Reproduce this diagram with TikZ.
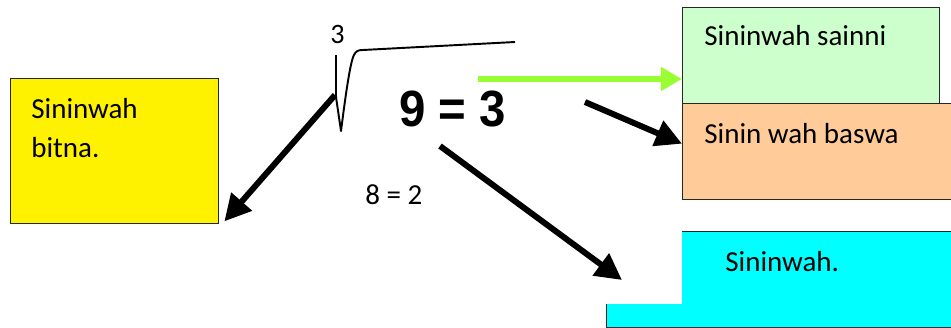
\documentclass[tikz,border=0pt]{standalone}
\usepackage{fontspec}
\setmainfont{Carlito}
\newfontfamily\eqfont{Liberation Sans}
\usetikzlibrary{arrows.meta,positioning,calc}
\definecolor{boxgreen}{HTML}{CCFFCC}
\definecolor{boxorange}{HTML}{FFCC99}
\definecolor{boxcyan}{HTML}{00FFFF}
\definecolor{arrowgreen}{HTML}{99FF33}

\begin{document}
\begin{tikzpicture}[x=0.02cm,y=-0.02cm,
    box/.style={draw=black!85,line width=0.8pt,anchor=north west,inner sep=0pt},
    txt/.style={anchor=base west,inner sep=0pt,font=\fontsize{16.5}{22}\selectfont},
    fat/.style={line width=3.4pt,-{Triangle[length=15pt,width=15pt]}}]
    \useasboundingbox (0,0) rectangle (951,328);

    % Boxes around the root
    \node[box,fill=yellow,minimum width=4.16cm,minimum height=2.9cm] (bitna) at (10,78) {};
    \node[box,fill=boxgreen,minimum width=5.14cm,minimum height=1.92cm] (sainni) at (682,7) {};
    \node[box,fill=boxorange,minimum width=5.6cm,minimum height=1.92cm] (baswa) at (682,103) {};
    \node[box,fill=boxcyan,minimum width=7.2cm,minimum height=1.92cm] (sininwah) at (606,231) {};
    \fill[white] (603,228) rectangle (682,304);

    % Box texts
    \node[txt,anchor=north west,align=left] (bitnatxt) at (31,98) {Sininwah\\bitna.};
    \node[txt] (sainnitxt) at (704,46) {Sininwah sainni};
    \node[txt] (baswatxt) at (704,143) {Sinin wah baswa};
    \node[txt] (sininwahtxt) at (725,271) {Sininwah.};

    % Root sign
    \draw[line width=1.1pt,line join=round] (336,55) -- (336,97) -- (341,131)
        .. controls (345,100) and (350,62) .. (354,55)
        .. controls (356,51) and (358,50) .. (363,50) -- (515,42);
    \node[txt,font=\fontsize{16}{18}\selectfont] (three) at (330,43) {3};
    \node[txt,font=\eqfont\bfseries\fontsize{29}{30}\selectfont] (nine) at (399,126) {\scalebox{0.93}[1]{9 = 3}};
    \node[txt] (eight) at (365,204) {8 = 2};

    % Arrows
    \coordinate (gstart) at (478,79);
    \draw[line width=3pt,arrowgreen,-{Triangle[length=12pt,width=13pt]}] (gstart) -- (gstart -| sainni.west);
    \coordinate (rootleft) at (335,95);
    \coordinate (bitnatip) at ($(bitna.south east)+(5,-3)$);
    \draw[fat] (rootleft) -- (bitnatip);
    \coordinate (eqright) at (585,102);
    \draw[fat] (eqright) -- ($(baswa.west)+(0,-8)$);
    \coordinate (eqbelow) at (440,146);
    \coordinate (cyantip) at (622,280);
    \draw[fat] (eqbelow) -- (cyantip);
\end{tikzpicture}
\end{document}
